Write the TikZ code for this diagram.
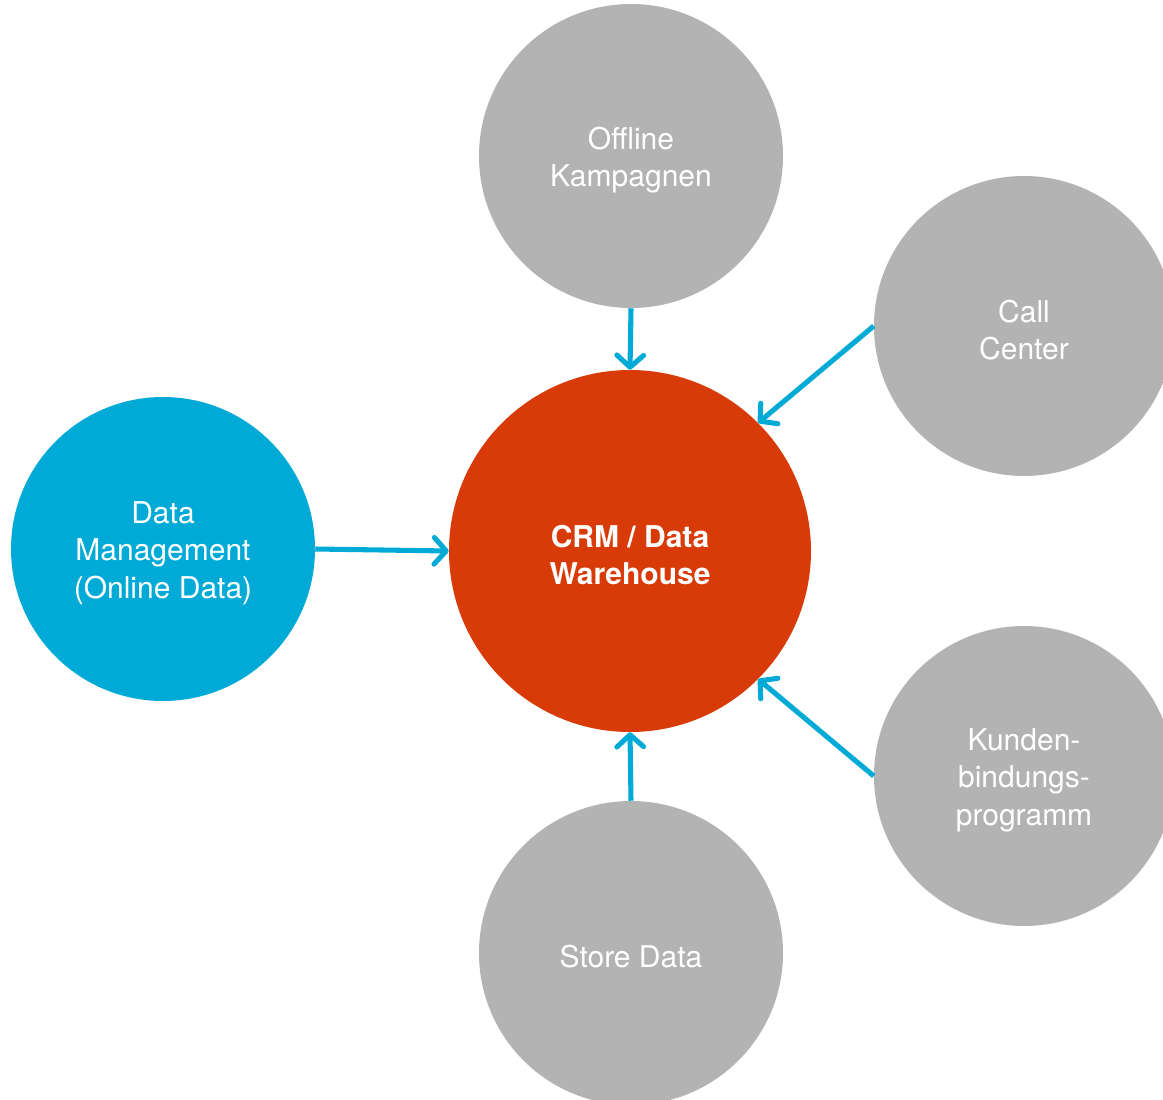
\documentclass[tikz,border=0pt]{standalone}
\usepackage{fontspec}
\setmainfont{TeX Gyre Heros}
\usetikzlibrary{arrows.meta}
\definecolor{cgray}{HTML}{B3B3B3}
\definecolor{cblue}{HTML}{00AAD6}
\definecolor{corange}{HTML}{D83B07}
\begin{document}
\begin{tikzpicture}[x=0.75pt,y=-0.75pt,
  bubble/.style={circle,inner sep=0pt,minimum size=304*0.75pt},
  graybub/.style={bubble,fill=cgray},
  txt/.style={text=white,align=center,inner sep=0pt,yshift=-3pt,
    font=\fontsize{22.5}{28}\selectfont},
  flow/.style={draw=cblue,line width=3.8pt,
    -{Straight Barb[length=9pt,width=20pt,line cap=round,line join=round]}}]
\useasboundingbox (0,0) rectangle (1163,1099);
\node[bubble,fill=corange,minimum size=362*0.75pt,
  label={[txt,font=\fontsize{22.5}{28}\selectfont\bfseries]center:CRM / Data\\Warehouse}] (crm) at (630,551) {};
\node[graybub,label={[txt]center:Offline\\Kampagnen}] (off) at (631,156) {};
\node[graybub,minimum size=300*0.75pt,label={[txt]center:Call\\Center}] (cc) at (1024,326) {};
\node[bubble,fill=cblue,label={[txt]center:Data\\Management\\(Online Data)}] (dm) at (163,549) {};
\node[graybub,minimum size=300*0.75pt,label={[txt]center:Kunden-\\bindungs-\\programm}] (kb) at (1024,776) {};
\node[graybub,label={[txt]center:Store Data}] (sd) at (631,953) {};
\draw[flow] (off.south) -- (crm.north);
\draw[flow] (cc.west) -- (crm.north east);
\draw[flow] (dm.east) -- (crm.west);
\draw[flow] (kb.west) -- (crm.south east);
\draw[flow] (sd.north) -- (crm.south);
\end{tikzpicture}
\end{document}
